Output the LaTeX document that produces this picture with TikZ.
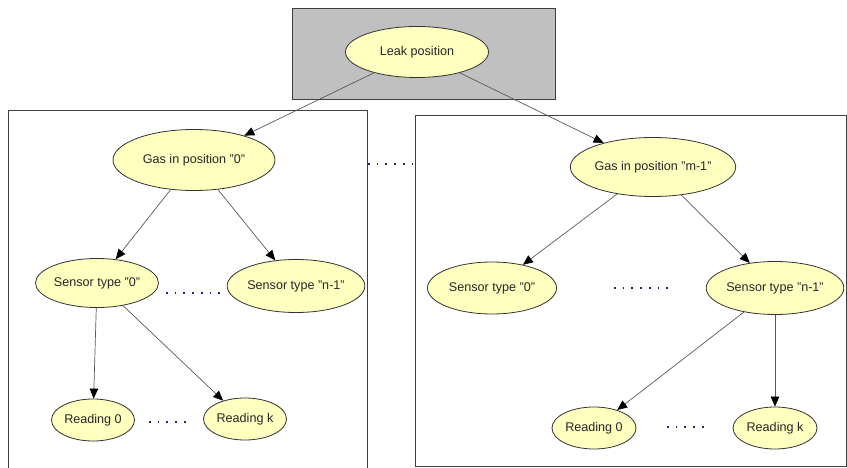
\documentclass[tikz,border=0pt]{standalone}
\usepackage{fontspec}
\setmainfont{Liberation Sans}
\usetikzlibrary{shapes.geometric,arrows.meta}
\definecolor{nodeyellow}{RGB}{255,255,192}
\definecolor{panelgray}{RGB}{192,192,192}
\definecolor{dotblue}{RGB}{30,40,110}
\begin{document}
\begin{tikzpicture}[x=1pt,y=-1pt,
  var/.style={ellipse, draw=black!80, fill=nodeyellow, line width=0.8pt,
    inner sep=0pt, font=\fontsize{12.6}{14}\selectfont, text=black!85},
  link/.style={draw=black!65, line width=0.7pt,
    -{Triangle[length=10pt,width=8.5pt,fill=black,color=black]}},
  gap/.style={draw=dotblue, line width=1.7pt, dash pattern=on 1.7pt off 7pt},
  panel/.style={draw=black!75, line width=0.8pt}
]
\useasboundingbox (0,0) rectangle (847,468);
\clip (0,0) rectangle (847,468);

% panels
\draw[panel, fill=panelgray] (292,8) rectangle (555,99);
\draw[panel] (8,110) rectangle (367,475);
\draw[panel] (415,115) rectangle (846,466);

% nodes
\node[var, minimum width=143pt, minimum height=51pt] (leak) at (417,52) {Leak position};

\node[var, minimum width=162pt, minimum height=61pt] (g0) at (194,160) {Gas in position "0"};
\node[var, minimum width=123pt, minimum height=49pt] (s0) at (97,283) {Sensor type "0"};
\node[var, minimum width=127pt, minimum height=53pt] (sn) at (296,286) {Sensor type "n-1"};
\node[var, minimum width=83pt, minimum height=42pt] (r0) at (93,420) {Reading 0};
\node[var, minimum width=83pt, minimum height=42pt] (rk) at (245,419) {Reading k};

\node[var, minimum width=163pt, minimum height=59pt] (gm) at (653,167) {Gas in position "m-1"};
\node[var, minimum width=129pt, minimum height=52pt] (t0) at (492,288) {Sensor type "0"};
\node[var, minimum width=126pt, minimum height=53pt] (tn) at (775,288) {Sensor type "n-1"};
\node[var, minimum width=84pt, minimum height=42pt] (q0) at (594,428) {Reading 0};
\node[var, minimum width=84pt, minimum height=42pt] (qk) at (775,428) {Reading k};

% elision marks
\coordinate (ga) at (368,164); \coordinate (gb) at (414,164);
\coordinate (la) at (166,293); \coordinate (lb) at (225,293);
\coordinate (ma) at (149,422); \coordinate (mb) at (189,422);
\coordinate (na) at (614,288); \coordinate (nb) at (672,288);
\coordinate (oa) at (667,427); \coordinate (ob) at (707,427);
\draw[gap] (ga) -- (gb);
\draw[gap] (la) -- (lb);
\draw[gap] (ma) -- (mb);
\draw[gap] (na) -- (nb);
\draw[gap] (oa) -- (ob);

% dependencies
\draw[link] (leak) -- (g0);
\draw[link] (leak) -- (gm);
\draw[link] (g0) -- (s0);
\draw[link] (g0) -- (sn);
\draw[link] (s0) -- (r0);
\draw[link] (s0.-41) -- (rk.140);
\draw[link] (gm) -- (t0);
\draw[link] (gm) -- (tn);
\draw[link] (tn) -- (q0);
\draw[link] (tn) -- (qk);
\end{tikzpicture}
\end{document}
